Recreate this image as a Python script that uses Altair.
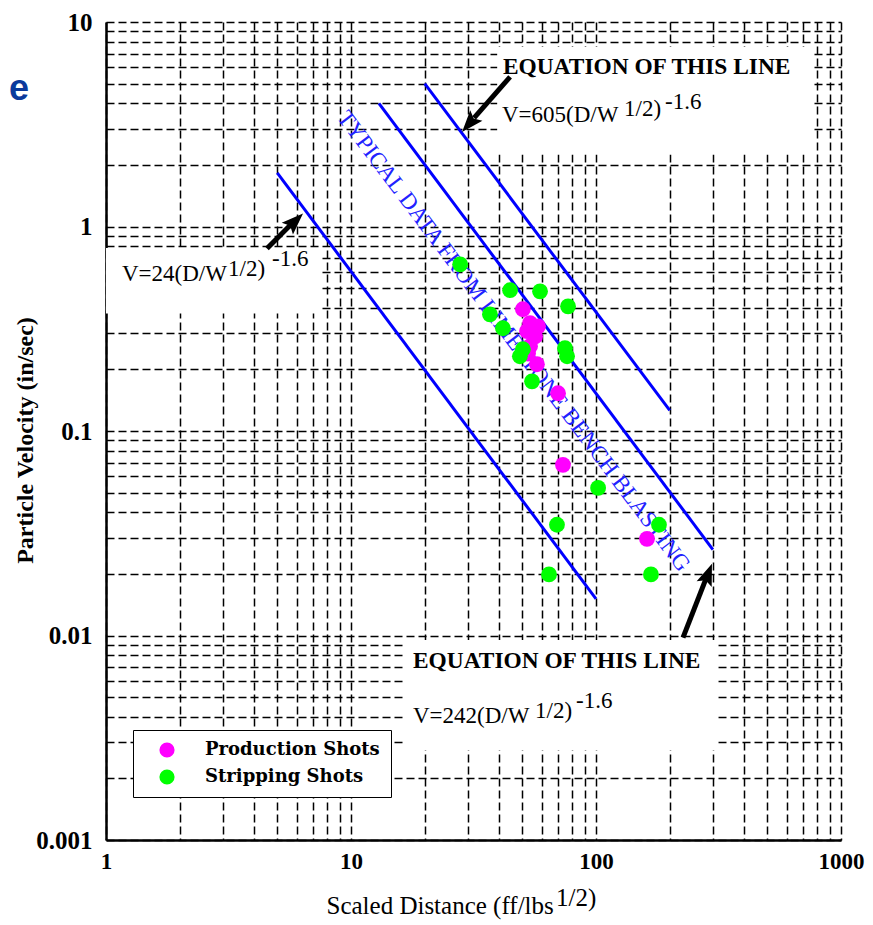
import altair as alt
import pandas as pd

# ---------------- data ----------------
# Production shots (magenta)
prod_x = [50.3, 53.8, 58.0, 52.3, 56.4, 53.8, 52.8, 57.4, 70.0, 73.3, 161.5]
prod_y = [0.394, 0.337, 0.325, 0.308, 0.290, 0.260, 0.239, 0.212, 0.153, 0.0683, 0.0297]
# Stripping shots (green)
strip_x = [27.9, 44.6, 59.1, 76.9, 36.9, 41.7, 50.3, 48.9, 74.7, 76.2, 54.8, 102, 69.3, 64.3, 180.7, 167.6]
strip_y = [0.653, 0.488, 0.482, 0.407, 0.372, 0.318, 0.251, 0.232, 0.254, 0.232, 0.175, 0.0527,
           0.0348, 0.0199, 0.0348, 0.0199]

series_names = ["Production Shots", "Stripping Shots"]
series_colors = ["#ff00ff", "#00ff00"]

# Blue attenuation lines (end points)
line_names = ["V=24", "V=242", "V=605"]
line_x0 = [5, 13, 20]
line_y0 = [1.83, 4.0, 5.0]
line_x1 = [100, 300, 200]
line_y1 = [0.0151, 0.0263, 0.126]

# White annotation boxes
box_x0 = [1.0, 39.5, 16.5]
box_x1 = [7.6, 760, 315]
box_y0 = [0.375, 2.25, 0.00275]
box_y1 = [0.785, 7.55, 0.0095]

# Equation labels
eq_head_text = ["EQUATION OF THIS LINE", "EQUATION OF THIS LINE"]
eq_head_x = [41.7, 17.9]
eq_head_y = [5.57, 0.0069]

eq_text = ["V=24(D/W", "1/2)", "-1.6", "V=605(D/W", "1/2)", "-1.6", "V=242(D/W", "1/2)", "-1.6"]
eq_x = [1.162, 3.15, 4.76, 41.3, 130.1, 191.3, 17.9, 56.4, 82.9]
eq_y = [0.539, 0.570, 0.638, 3.25, 3.47, 3.77, 0.00372, 0.00394, 0.0044]

# Arrows: tail, end of shaft, tip, head angle
arrow_tail_x = [4.54, 44.6, 226.5]
arrow_tail_y = [0.78, 5.39, 0.00977]
arrow_shaft_x = [5.74, 31.8, 281.2]
arrow_shaft_y = [1.034, 3.40, 0.01897]
arrow_tip_x = [6.37, 28.4, 297.4]
arrow_tip_y = [1.157, 2.90, 0.02244]
arrow_angle = [46, 221, 21]

# Rotated blue caption
caption_text = ["TYPICAL DATA FROM LIMESTONE BENCH BLASTING"]
caption_x = [46.1]
caption_y = [0.275]

# Axis ticks
x_major = [1, 10, 100, 1000]
y_major = [0.001, 0.01, 0.1, 1, 10]
x_ticks = sorted(set(round(m * d, 6) for d in [1, 10, 100] for m in range(1, 10)) | {1000})
y_ticks = sorted(set(round(m * d, 6) for d in [0.001, 0.01, 0.1, 1] for m in range(1, 10)) | {10})

# ---------------- chart ----------------
serif = "Liberation Serif"

xscale = alt.Scale(type="log", domain=[1, 1000], nice=False)
yscale = alt.Scale(type="log", domain=[0.001, 10], nice=False)

x_axis = alt.Axis(
    values=x_ticks,
    labelExpr="indexof(%s, datum.value) >= 0 ? format(datum.value, '~g') : ''" % str(x_major),
    grid=True, gridDash=[8, 4], gridColor="black", gridWidth=1.5, gridOpacity=1,
    domainColor="black", domainWidth=2.5, ticks=False, tickSize=0,
    labelFont=serif, labelFontSize=23, labelFontWeight="bold", labelColor="black",
    labelPadding=10, labelFlush=False, labelOverlap=False, labelBound=False,
    title="Scaled Distance (ff/lbs", titleFont=serif, titleFontSize=25, titleFontWeight="normal",
    titleColor="black", titleX=220, titleY=73, titleAlign="left", titleBaseline="alphabetic",
)
y_axis = alt.Axis(
    values=y_ticks,
    labelExpr="indexof(%s, datum.value) >= 0 ? format(datum.value, '~g') : ''" % str(y_major),
    grid=True, gridDash=[8, 4], gridColor="black", gridWidth=1.5, gridOpacity=1,
    domainColor="black", domainWidth=2.5, ticks=False, tickSize=0,
    labelFont=serif, labelFontSize=25, labelFontWeight="bold", labelColor="black",
    labelPadding=14, labelFlush=False, labelOverlap=False, labelBound=False,
    title="Particle Velocity (in/sec)", titleFont=serif, titleFontSize=24, titleFontWeight="bold",
    titleColor="black", titleX=-69, titleY=418, titleAngle=-90, titleAlign="center",
    titleBaseline="bottom",
)

def X(field):
    return alt.X(field, type="quantitative", scale=xscale, axis=x_axis)

def Y(field):
    return alt.Y(field, type="quantitative", scale=yscale, axis=y_axis)

boxes_df = pd.DataFrame({"x0": box_x0, "x1": box_x1, "y0": box_y0, "y1": box_y1})
boxes = alt.Chart(boxes_df).mark_rect(fill="white", strokeWidth=0).encode(
    x=X("x0"), x2="x1", y=Y("y0"), y2="y1"
)

lines_df = pd.DataFrame({"name": line_names, "x0": line_x0, "y0": line_y0, "x1": line_x1, "y1": line_y1})
lines = alt.Chart(lines_df).mark_rule(color="#0000ff", strokeWidth=3).encode(
    x=X("x0"), y=Y("y0"), x2="x1", y2="y1"
)

caption_df = pd.DataFrame({"x": caption_x, "y": caption_y, "t": caption_text})
caption = alt.Chart(caption_df).mark_text(
    angle=53, font=serif, fontSize=23, color="#2222ff", align="center", baseline="middle"
).encode(x=X("x"), y=Y("y"), text="t:N")

points_df = pd.DataFrame({
    "x": prod_x + strip_x,
    "y": prod_y + strip_y,
    "series": [series_names[0]] * len(prod_x) + [series_names[1]] * len(strip_x),
})
points = alt.Chart(points_df).mark_point(filled=True, size=250, opacity=1).encode(
    x=X("x"), y=Y("y"),
    color=alt.Color(
        "series:N",
        scale=alt.Scale(domain=series_names, range=series_colors),
        legend=alt.Legend(
            title=None, orient="none", legendX=27, legendY=708,
            fillColor="white", strokeColor="black", padding=11,
            symbolType="circle", symbolSize=230, symbolStrokeWidth=0, symbolOpacity=1,
            symbolOffset=14, labelOffset=29, rowPadding=9,
            labelFont="DejaVu Serif", labelFontSize=18, labelFontWeight="bold", labelColor="black",
            labelLimit=300,
        ),
    ),
)

head_df = pd.DataFrame({"t": eq_head_text, "x": eq_head_x, "y": eq_head_y})
heads = alt.Chart(head_df).mark_text(
    align="left", baseline="alphabetic", font=serif, fontSize=23.4, fontWeight="bold", color="black"
).encode(x=X("x"), y=Y("y"), text="t:N")

eq_df = pd.DataFrame({"t": eq_text, "x": eq_x, "y": eq_y})
eqs = alt.Chart(eq_df).mark_text(
    align="left", baseline="alphabetic", font=serif, fontSize=23, color="black"
).encode(x=X("x"), y=Y("y"), text="t:N")

arrow_df = pd.DataFrame({
    "tx": arrow_tail_x, "ty": arrow_tail_y,
    "sx": arrow_shaft_x, "sy": arrow_shaft_y,
    "px": arrow_tip_x, "py": arrow_tip_y, "a": arrow_angle,
})
shafts = alt.Chart(arrow_df).mark_rule(color="black", strokeWidth=5).encode(
    x=X("tx"), y=Y("ty"), x2="sx", y2="sy"
)
arrow_heads = alt.Chart(arrow_df).mark_point(
    shape="M0,0 L-1,2.7 L0,2.2 L1,2.7 Z", filled=True, color="black", size=260, opacity=1
).encode(x=X("px"), y=Y("py"), angle=alt.Angle("a:Q", scale=None))

sup_df = pd.DataFrame({"t": ["1/2)"], "px": [450], "py": [884]})
x_title_sup = alt.Chart(sup_df).mark_text(
    align="left", baseline="alphabetic", font=serif, fontSize=25, color="black"
).encode(x=alt.X("px:Q", scale=None), y=alt.Y("py:Q", scale=None), text="t:N")

e_df = pd.DataFrame({"t": ["e"]})
e_text = alt.Chart(e_df).mark_text(
    align="left", baseline="alphabetic", font="Liberation Sans", fontSize=36, fontWeight="bold",
    color="#0b3a9c"
).encode(x=alt.value(-97), y=alt.value(78), text="t:N")

chart = alt.layer(
    boxes, lines, caption, points, heads, eqs, shafts, arrow_heads, x_title_sup, e_text
).properties(
    width=735, height=818,
    padding={"left": 98, "top": 14, "right": 24, "bottom": 85},
    autosize=alt.AutoSizeParams(type="none"),
).configure_view(stroke=None)

chart.save("out.html", embed_options={"renderer": "svg", "actions": False})
